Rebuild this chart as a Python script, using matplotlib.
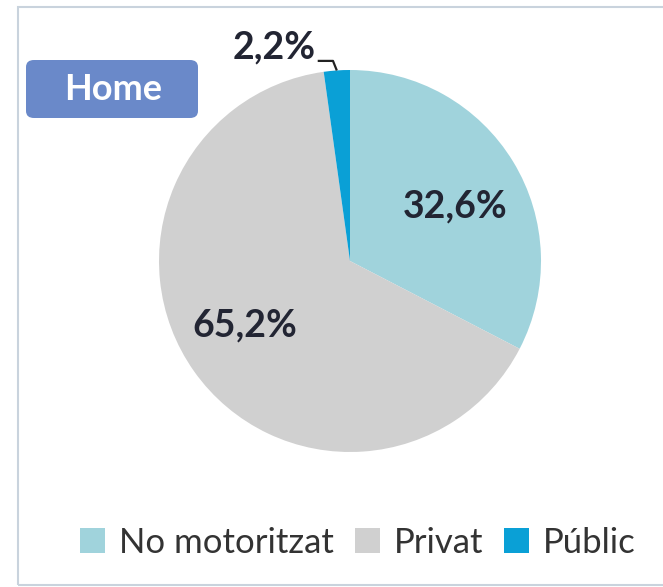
import numpy as np
import matplotlib
matplotlib.use("Agg")
import matplotlib.pyplot as plt
from matplotlib.patches import FancyBboxPatch, Rectangle

categories = ["No motoritzat", "Privat", "Públic"]
values = [32.6, 65.2, 2.2]
labels = ["32,6%", "65,2%", "2,2%"]
colors = ["#a0d3dc", "#d0d0d0", "#0aa0d6"]
title = "Home"

plt.rcParams['font.family'] = ['Lato', 'DejaVu Sans']

fig = plt.figure(figsize=(6.63, 5.87), dpi=100)
W, H = 663, 587

# frame
fig.patches.append(Rectangle((18/W, 1-585/H), (680-18)/W, (585-7)/H, transform=fig.transFigure,
                             fill=False, edgecolor="#c9d3dd", linewidth=1.5, clip_on=False))

ax = fig.add_axes([(350-191)/W, (587-452)/H, 382/W, 382/H])
wedges, _ = ax.pie(values, colors=colors, startangle=90, counterclock=False, radius=1.0)
ax.set_xlim(-1, 1); ax.set_ylim(-1, 1)
ax.set_aspect('equal')
ax.axis('off')

ax.text(0.55, 0.288, labels[0], ha='center', va='center', fontsize=27, fontweight='bold', color='#222533')
ax.text(-0.55, -0.335, labels[1], ha='center', va='center', fontsize=27, fontweight='bold', color='#222533')

# small slice label with leader line
mid = np.deg2rad(90 - 360 * (sum(values[:2]) + values[2] / 2) / sum(values))
ex, ey = np.cos(mid), np.sin(mid)
ax.plot([ex, ex - 0.02, ex - 0.10], [ey, ey + 0.05, ey + 0.05], color='#222222', lw=1.6, clip_on=False,
        solid_capstyle='butt')
ax.text(ex - 0.11, ey + 0.03, labels[2], ha='right', va='bottom', fontsize=27, fontweight='bold',
        color='#222533')

# title box
fig.patches.append(FancyBboxPatch((26/W, 1-118/H), (198-26)/W, (118-60)/H, transform=fig.transFigure,
                                  boxstyle="round,pad=0,rounding_size=0.012", facecolor="#6a89c9",
                                  edgecolor="none"))
fig.text(113/W, 1-89/H, title, ha='center', va='center', fontsize=26, fontweight='bold', color='white')

handles = [Rectangle((0, 0), 1, 1, facecolor=c) for c in colors]
fig.legend(handles, categories, loc='center', bbox_to_anchor=(358/W, 1-543/H), ncol=3,
           frameon=False, fontsize=25, handlelength=0.72, handleheight=0.72, handletextpad=0.4,
           columnspacing=0.6, labelcolor='#333333')

fig.savefig("out.png", dpi=100)
